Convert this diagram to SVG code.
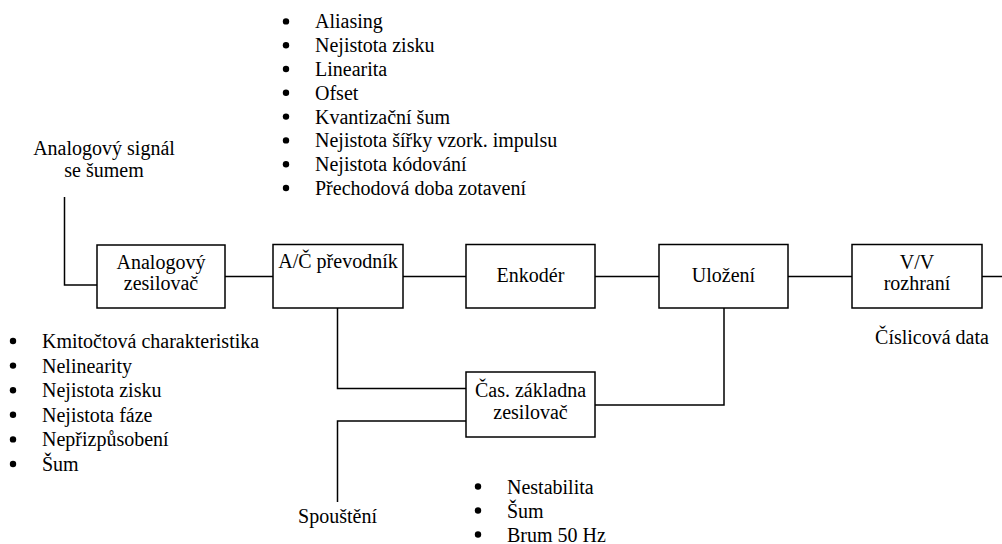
<svg xmlns="http://www.w3.org/2000/svg" width="1002" height="544" viewBox="0 0 1002 544" font-family="Liberation Serif, Times New Roman, serif" font-size="20">
<style>
text { font-family: 'Liberation Serif', 'Times New Roman', Times, serif; font-size: 20px; fill: #000; }
.c { text-anchor: middle; }
.box { fill: #fff; stroke: #000; stroke-width: 1.5; }
.ln { fill: none; stroke: #000; stroke-width: 1.5; }
</style>
<defs>
  <circle id="dot" r="3.2" fill="#000"/>
</defs>
<rect width="1002" height="544" fill="#fff"/>
<g id="connectors">
  <path class="ln" d="M64.5,197 V285 H97"/>
  <path class="ln" d="M225,276.5 H273"/>
  <path class="ln" d="M403,276.5 H466"/>
  <path class="ln" d="M595,276.5 H659"/>
  <path class="ln" d="M788,276.5 H852"/>
  <path class="ln" d="M982,276.5 H1002"/>
  <path class="ln" d="M337.5,308 V388.5 H466"/>
  <path class="ln" d="M724,308 V405 H595"/>
  <path class="ln" d="M466,421 H337.5 V502"/>
</g>
<g id="label-input">
  <text class="c" x="104" y="155" font-family="Liberation Serif">Analogový signál</text>
  <text class="c" x="104" y="177">se šumem</text>
</g>
<g id="node-analog">
  <rect class="box" x="97" y="245" width="128" height="63"/>
  <text class="c" x="161" y="268.5">Analogový</text>
  <text class="c" x="161" y="290">zesilovač</text>
</g>
<g id="node-adc">
  <rect class="box" x="273" y="244.5" width="130" height="63.5"/>
  <text class="c" x="338" y="268">A/Č převodník</text>
</g>
<g id="node-encoder">
  <rect class="box" x="466" y="244.5" width="129" height="63.5"/>
  <text class="c" x="530.5" y="282">Enkodér</text>
</g>
<g id="node-storage">
  <rect class="box" x="659" y="244.5" width="129" height="63.5"/>
  <text class="c" x="723.5" y="282">Uložení</text>
</g>
<g id="node-io">
  <rect class="box" x="852" y="244.5" width="130" height="63.5"/>
  <text class="c" x="917" y="268.5">V/V</text>
  <text class="c" x="917" y="290">rozhraní</text>
</g>
<g id="node-timebase">
  <rect class="box" x="466" y="372" width="129" height="65"/>
  <text class="c" x="530.5" y="397">Čas. základna</text>
  <text class="c" x="530.5" y="419">zesilovač</text>
</g>
<g id="label-output">
  <text class="c" x="932" y="344">Číslicová data</text>
</g>
<g id="label-trigger">
  <text class="c" x="337.5" y="523">Spouštění</text>
</g>
<g id="list-adc">
  <use href="#dot" x="286" y="21.4"/><text x="315" y="28.4">Aliasing</text>
  <use href="#dot" x="286" y="45.2"/><text x="315" y="52.2">Nejistota zisku</text>
  <use href="#dot" x="286" y="69"/><text x="315" y="76">Linearita</text>
  <use href="#dot" x="286" y="92.8"/><text x="315" y="99.8">Ofset</text>
  <use href="#dot" x="286" y="116.6"/><text x="315" y="123.6">Kvantizační šum</text>
  <use href="#dot" x="286" y="140.4"/><text x="315" y="147.4">Nejistota šířky vzork. impulsu</text>
  <use href="#dot" x="286" y="164.2"/><text x="315" y="171.2">Nejistota kódování</text>
  <use href="#dot" x="286" y="188"/><text x="315" y="195">Přechodová doba zotavení</text>
</g>
<g id="list-analog">
  <use href="#dot" x="13" y="341"/><text x="42" y="348">Kmitočtová charakteristika</text>
  <use href="#dot" x="13" y="365.6"/><text x="42" y="372.6">Nelinearity</text>
  <use href="#dot" x="13" y="390.2"/><text x="42" y="397.2">Nejistota zisku</text>
  <use href="#dot" x="13" y="414.8"/><text x="42" y="421.8">Nejistota fáze</text>
  <use href="#dot" x="13" y="439.4"/><text x="42" y="446.4">Nepřizpůsobení</text>
  <use href="#dot" x="13" y="464"/><text x="42" y="471">Šum</text>
</g>
<g id="list-timebase">
  <use href="#dot" x="478" y="486.5"/><text x="507" y="493.5">Nestabilita</text>
  <use href="#dot" x="478" y="510.5"/><text x="507" y="517.5">Šum</text>
  <use href="#dot" x="478" y="534.5"/><text x="507" y="541.5">Brum 50 Hz</text>
</g>
</svg>
